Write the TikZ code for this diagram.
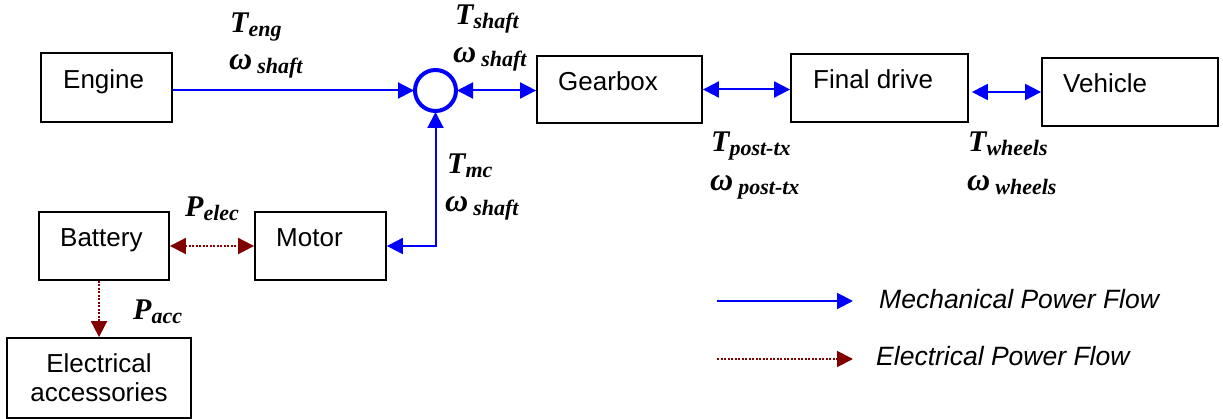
\documentclass[tikz,border=0pt]{standalone}
\usepackage{fontspec}
\setmainfont{Liberation Sans}
\newfontfamily\tnr{Liberation Serif}
\usetikzlibrary{arrows.meta}
\definecolor{mech}{RGB}{0,0,255}
\definecolor{elec}{RGB}{128,0,0}
\newcommand{\qlab}[2]{{\tnr\bfseries\itshape\fontsize{30}{32}\selectfont #1\raisebox{-4pt}{\fontsize{22}{24}\selectfont #2}}}
\newcommand{\wlab}[1]{{\tnr\bfseries\itshape{\fontsize{32}{34}\selectfont ω}\hspace{5pt}\raisebox{-4pt}{\fontsize{22}{24}\selectfont #1}}}
\tikzset{
  blk/.style={draw=black, line width=1.8pt, rectangle, inner sep=0pt},
  blktext/.style={font=\fontsize{26}{29}\selectfont, anchor=base west, inner sep=0pt},
  qty/.style={anchor=base west, inner sep=0pt},
  mline/.style={draw=mech, line width=2pt},
  eline/.style={draw=elec, line width=1.8pt, dash pattern=on 2pt off 1.5pt},
  tipm/.style={-{Triangle[length=16pt,width=16pt]}},
  tipmm/.style={{Triangle[length=16pt,width=16pt]}-{Triangle[length=16pt,width=16pt]}},
  legtext/.style={font=\fontsize{26.5}{29}\selectfont\itshape, anchor=base west, inner sep=0pt},
}
\begin{document}
\begin{tikzpicture}[x=1pt,y=-1pt]
\useasboundingbox (0,0) rectangle (1223,419);

% blocks
\node[blk, minimum width=131pt, minimum height=69pt] (engine) at (106.5,87.5) {};
\node[blktext] (engineT) at (63,89) {Engine};
\node[circle, draw=mech, line width=4pt, minimum size=41pt, inner sep=0pt] (sum) at (435.5,90.5) {};
\node[blk, minimum width=165pt, minimum height=67pt] (gearbox) at (619.5,89.5) {};
\node[blktext] (gearboxT) at (558,91) {Gearbox};
\node[blk, minimum width=177pt, minimum height=68pt] (final) at (879.5,88) {};
\node[blktext] (finalT) at (813,89) {Final drive};
\node[blk, minimum width=176pt, minimum height=68pt] (vehicle) at (1130,92) {};
\node[blktext] (vehicleT) at (1063,93) {Vehicle};
\node[blk, minimum width=131pt, minimum height=68pt] (motor) at (320.5,246) {};
\node[blktext] (motorT) at (276,247) {Motor};
\node[blk, minimum width=130pt, minimum height=68pt] (battery) at (104,246) {};
\node[blktext] (batteryT) at (60,247) {Battery};
\node[blk, minimum width=184pt, minimum height=80pt, align=center, font=\fontsize{26}{29}\selectfont] (acc) at (99,378) {Electrical\\accessories};

% mechanical connectors
\draw[mline, tipm, shorten >=-1pt] (engine.east |- sum.west) -- (sum.west);
\draw[mline, tipmm, shorten <=-1pt] (sum.east) -- (gearbox.west |- sum.east);
\draw[mline, tipmm] (gearbox.east) -- (final.west |- gearbox.east);
\draw[mline, tipmm, shorten <=3pt] (final.east |- vehicle.west) -- (vehicle.west);
\draw[mline, tipmm, shorten >=-1pt] (motor.east) -| (sum.south);

% electrical connectors
\draw[eline, tipmm] (battery.east) -- (motor.west);
\draw[eline, tipm] (battery.south -| acc.north) -- (acc.north);

% quantity labels
\node[qty] (teng) at (230,33) {\qlab{T}{eng}};
\node[qty] (weng) at (229,70) {\wlab{shaft}};
\node[qty] (tshaft) at (455,25) {\qlab{T}{shaft}};
\node[qty] (wshaft) at (453,63) {\wlab{shaft}};
\node[qty] (tmc) at (447,174) {\qlab{T}{mc}};
\node[qty] (wmc) at (445,212) {\wlab{shaft}};
\node[qty] (tpost) at (711,152) {\qlab{T}{post-tx}};
\node[qty] (wpost) at (710,191) {\wlab{post-tx}};
\node[qty] (twh) at (968,152) {\qlab{T}{wheels}};
\node[qty] (wwh) at (967,191) {\wlab{wheels}};
\node[qty] (pelec) at (185,217) {\qlab{P}{elec}};
\node[qty] (pacc) at (133,320) {\qlab{P}{acc}};

% legend
\coordinate (m1) at (717,301);
\coordinate (m2) at (853,301);
\coordinate (e1) at (717,359);
\coordinate (e2) at (853,359);
\draw[mline, tipm] (m1) -- (m2);
\draw[eline, tipm] (e1) -- (e2);
\node[legtext] (mtext) at (879,309) {Mechanical Power Flow};
\node[legtext] (etext) at (876,366) {Electrical Power Flow};
\end{tikzpicture}
\end{document}
